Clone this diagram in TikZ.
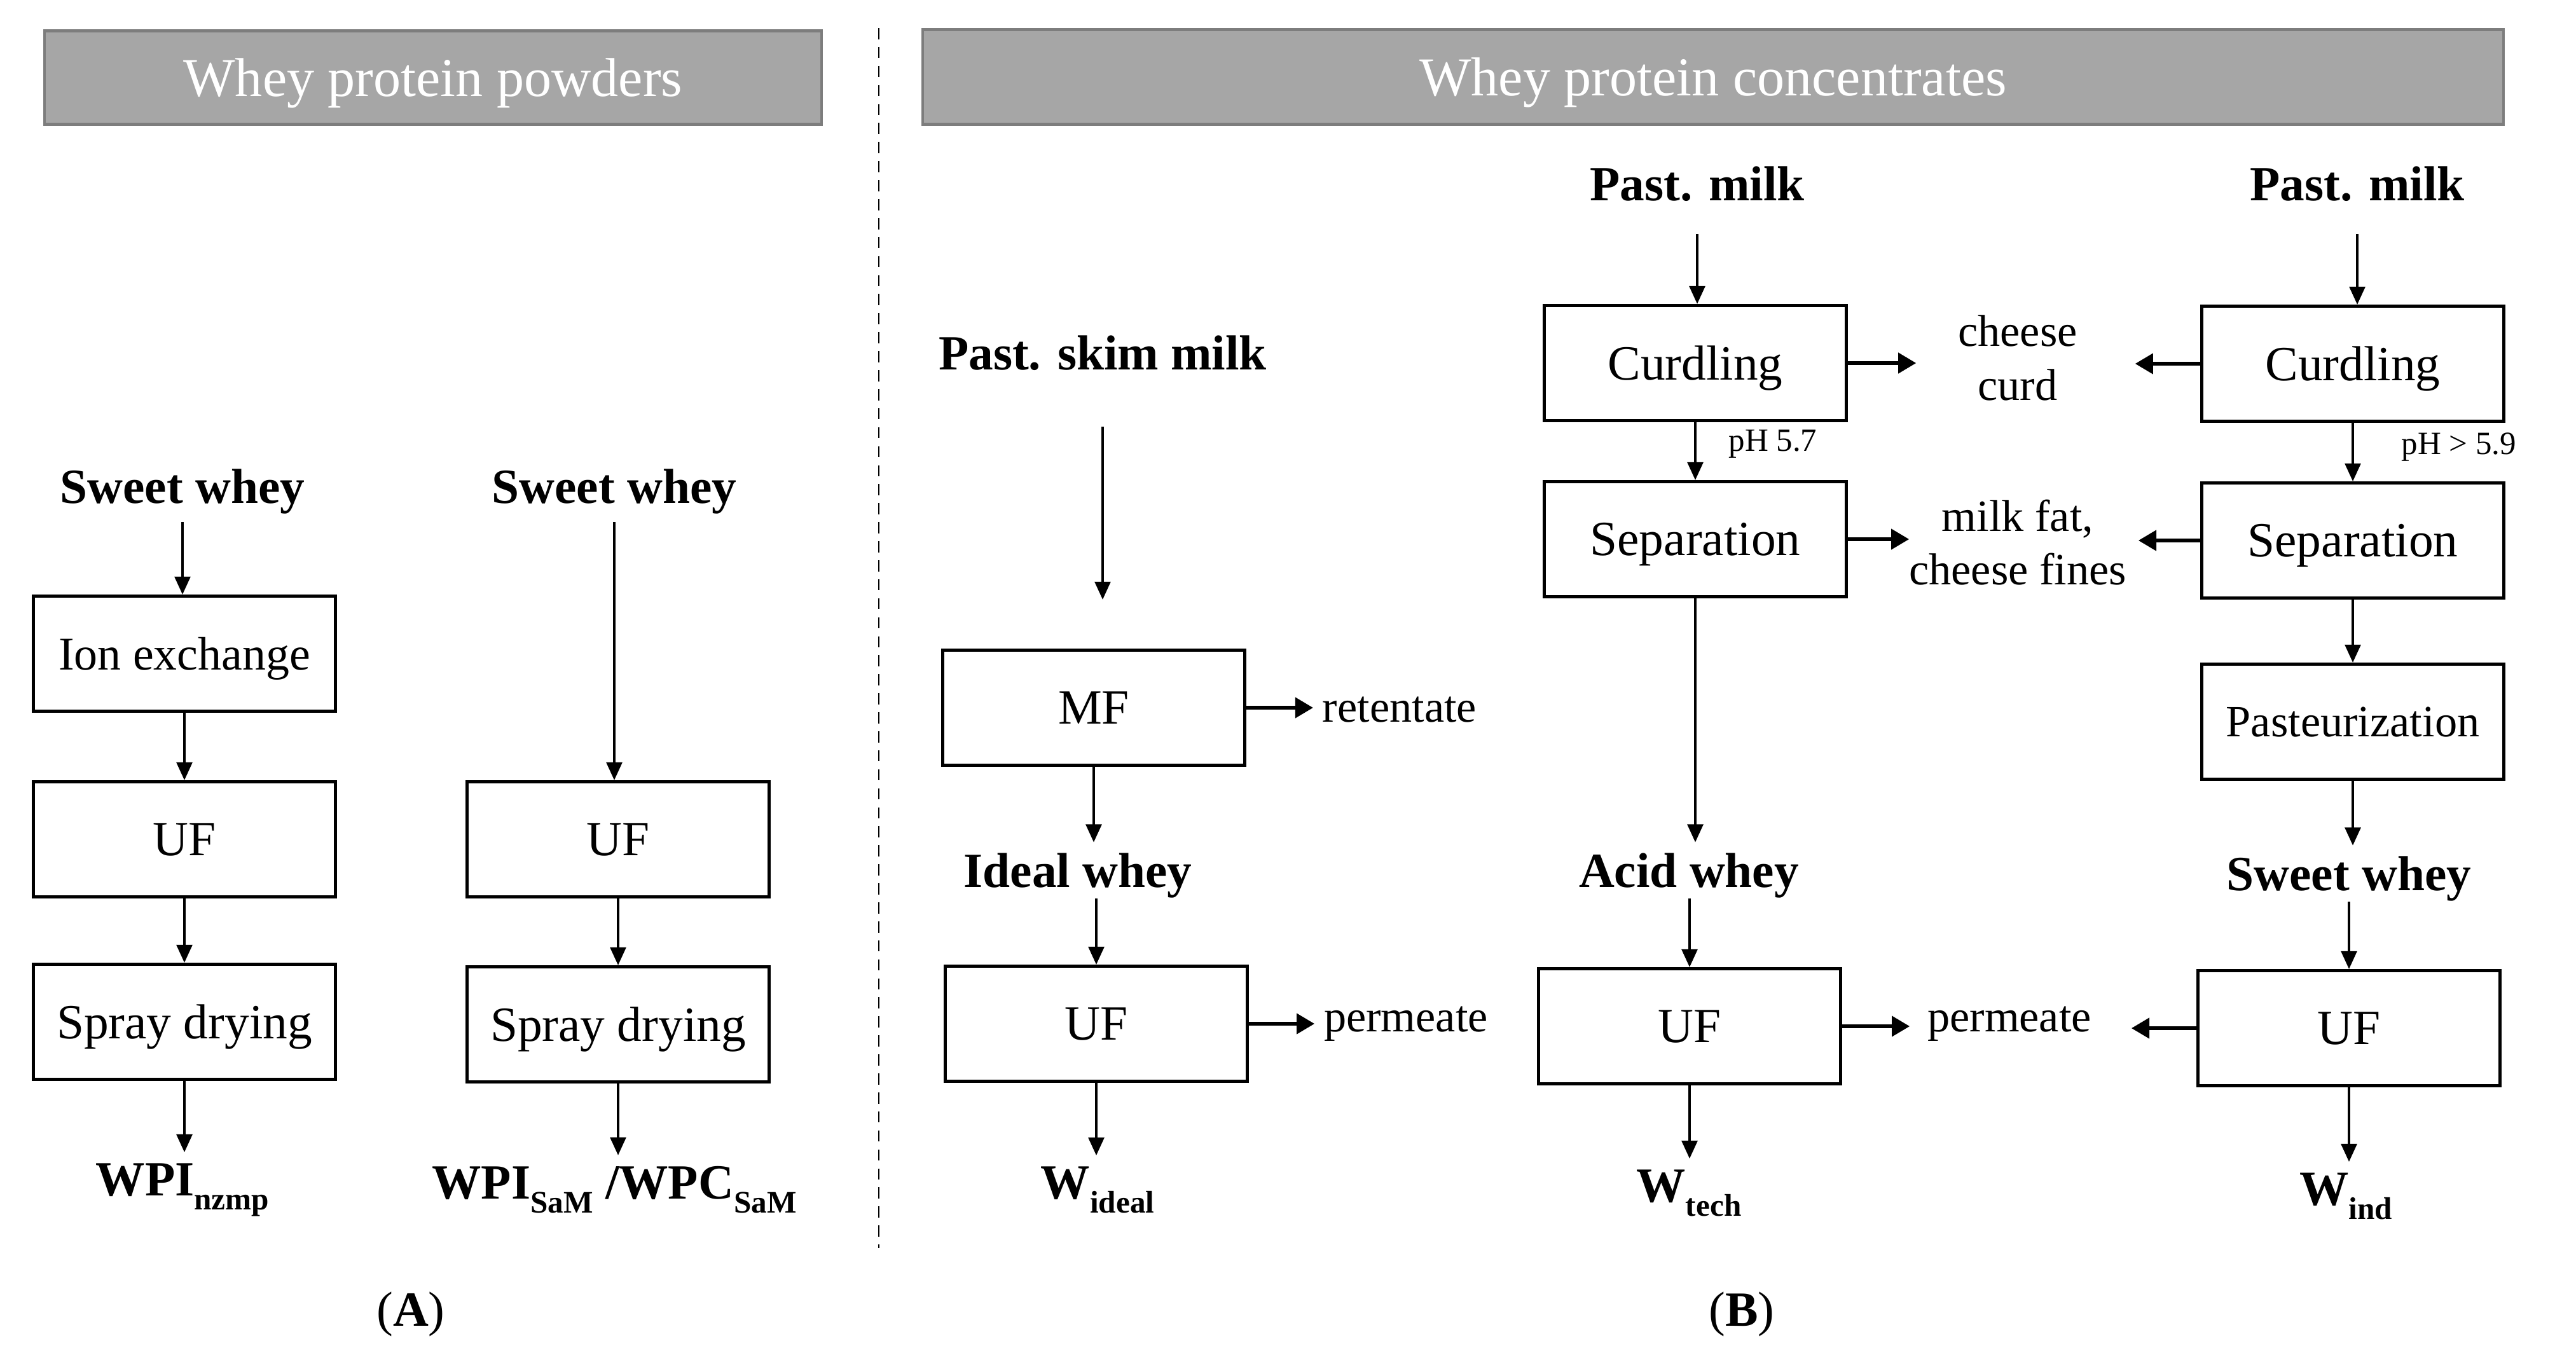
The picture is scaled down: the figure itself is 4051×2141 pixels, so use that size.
\documentclass[tikz,border=0pt]{standalone}
\usepackage{fontspec}
\setmainfont{Liberation Serif}
\usetikzlibrary{arrows.meta}
\definecolor{hdrfill}{RGB}{166,166,166}
\definecolor{hdrline}{RGB}{125,125,125}
\newcommand\sbx[1]{\raisebox{-0.28em}{\fontsize{14}{14}\selectfont #1}}
\begin{document}
\begin{tikzpicture}[x=0.01cm,y=-0.01cm,
  hdr/.style={fill=hdrfill,draw=hdrline,line width=1.2pt,inner sep=0pt,text depth=0pt,text=white,font=\fontsize{24.5}{28}\selectfont},
  box/.style={draw,line width=1.4pt,minimum width=4.75cm,minimum height=1.81cm,inner sep=0pt,text depth=0pt,font=\fontsize{22}{26}\selectfont},
  lbl/.style={inner sep=0pt,outer sep=5pt,text depth=0pt,font=\bfseries\fontsize{22}{26}\selectfont},
  side/.style={inner sep=0pt,outer sep=0pt,align=center,font=\fontsize{20}{24}\selectfont},
  ph/.style={inner sep=0pt,font=\fontsize{14.5}{17}\selectfont},
  arr/.style={-{Triangle[length=8pt,width=7pt]},line width=1.1pt},
  harr/.style={-{Triangle[length=8pt,width=9pt]},line width=1.6pt},
]
\useasboundingbox[fill=white] (0,0) rectangle (4051,2141);

% headers
\node[hdr,minimum width=12.22cm,minimum height=1.47cm] (hA) at (681,122) {Whey protein powders};
\node[hdr,minimum width=24.85cm,minimum height=1.49cm] (hB) at (2694,121) {Whey protein concentrates};
\draw[line width=0.8pt,dash pattern=on 5pt off 3.5pt] (1382,44) -- (1382,1963);

% panel A
\node[lbl] (aSW1) at (287,765) {Sweet whey};
\node[box,font=\fontsize{21}{24}\selectfont] (aIon) at (290,1028) {Ion exchange};
\node[box] (aUF1) at (290,1320) {UF};
\node[box] (aSD1) at (290,1607) {Spray drying};
\node[lbl] (aW1) at (287,1855) {WPI\sbx{nzmp}};
\node[lbl] (aSW2) at (966,765) {Sweet whey};
\node[box] (aUF2) at (972,1320) {UF};
\node[box] (aSD2) at (972,1611) {Spray drying};
\node[lbl] (aW2) at (966,1860) {WPI\sbx{SaM} /WPC\sbx{SaM}};
\node[lbl,font=\fontsize{22}{26}\selectfont] (labA) at (646,2059) {(\textbf{A})};

\draw[arr,shorten <=0.12cm] (aSW1.south) -- (aSW1.south |- aIon.north);
\draw[arr] (aIon) -- (aUF1);
\draw[arr] (aUF1) -- (aSD1);
\draw[arr] (aSD1.south) -- (aSD1.south |- aW1.north);
\draw[arr,shorten <=0.12cm] (aSW2.south) -- (aSW2.south |- aUF2.north);
\draw[arr] (aUF2) -- (aSD2);
\draw[arr] (aSD2.south) -- (aSD2.south |- aW2.north);

% panel B, left column
\node[lbl] (bPSM) at (1734,555) {Past. skim milk};
\node[box] (bMF) at (1720,1113) {MF};
\node[side] (bRet) at (2201,1116) {retentate};
\node[lbl] (bIW) at (1695,1369) {Ideal whey};
\node[box] (bUF1) at (1724,1610) {UF};
\node[side] (bPerm1) at (2211,1610) {permeate};
\node[lbl] (bW1) at (1726,1860) {W\sbx{ideal}};

\draw[arr,shorten <=0.72cm,shorten >=0.77cm] (bPSM.south) -- (bPSM.south |- bMF.north);
\draw[arr] (bMF.south) -- (bMF.south |- bIW.north);
\draw[arr] (bUF1.north |- bIW.south) -- (bUF1.north);
\draw[arr] (bUF1.south) -- (bUF1.south |- bW1.north);
\draw[harr,shorten >=0.15cm] (bMF.east) -- (bMF.east -| bRet.west);
\draw[harr,shorten >=0.15cm] (bUF1.east) -- (bUF1.east -| bPerm1.west);

% panel B, middle column
\node[lbl] (bPM1) at (2669,289) {Past. milk};
\node[box] (bCur1) at (2666,571) {Curdling};
\node[side] (bCC) at (3173,563) {cheese\\curd};
\node[ph] (bpH1) at (2788,698) {pH 5.7};
\node[box] (bSep1) at (2666,848) {Separation};
\node[side] (bMFat) at (3173,853) {milk fat,\\cheese fines};
\node[lbl] (bAW) at (2656,1369) {Acid whey};
\node[box] (bUF2) at (2657,1614) {UF};
\node[side] (bPerm2) at (3160,1610) {permeate};
\node[lbl] (bW2) at (2656,1865) {W\sbx{tech}};

\draw[arr,shorten <=0.35cm] (bPM1.south) -- (bPM1.south |- bCur1.north);
\draw[arr] (bCur1) -- (bSep1);
\draw[arr] (bSep1.south) -- (bSep1.south |- bAW.north);
\draw[arr] (bUF2.north |- bAW.south) -- (bUF2.north);
\draw[arr] (bUF2.south) -- (bUF2.south |- bW2.north);
\draw[harr,shorten >=0.66cm] (bCur1.east) -- (bCur1.east -| bCC.west);
\draw[harr] (bSep1.east) -- (bSep1.east -| bMFat.west);
\draw[harr,shorten >=0.28cm] (bUF2.east) -- (bUF2.east -| bPerm2.west);

% panel B, right column
\node[lbl] (bPM2) at (3707,289) {Past. milk};
\node[box] (bCur2) at (3700,572) {Curdling};
\node[ph] (bpH2) at (3867,703) {pH > 5.9};
\node[box] (bSep2) at (3700,850) {Separation};
\node[box,font=\fontsize{20}{24}\selectfont] (bPast) at (3700,1135) {Pasteurization};
\node[lbl] (bSW) at (3694,1374) {Sweet whey};
\node[box] (bUF3) at (3694,1617) {UF};
\node[lbl] (bW3) at (3689,1870) {W\sbx{ind}};
\node[lbl,font=\fontsize{22}{26}\selectfont] (labB) at (2739,2059) {(\textbf{B})};

\draw[arr,shorten <=0.35cm] (bPM2.south) -- (bPM2.south |- bCur2.north);
\draw[arr] (bCur2) -- (bSep2);
\draw[arr] (bSep2) -- (bPast);
\draw[arr] (bPast.south) -- (bPast.south |- bSW.north);
\draw[arr] (bUF3.north |- bSW.south) -- (bUF3.north);
\draw[arr] (bUF3.south) -- (bUF3.south |- bW3.north);
\draw[harr,shorten >=0.91cm] (bCur2.west) -- (bCur2.west -| bCC.east);
\draw[harr,shorten >=0.19cm] (bSep2.west) -- (bSep2.west -| bMFat.east);
\draw[harr,shorten >=0.63cm] (bUF3.west) -- (bUF3.west -| bPerm2.east);
\end{tikzpicture}
\end{document}
